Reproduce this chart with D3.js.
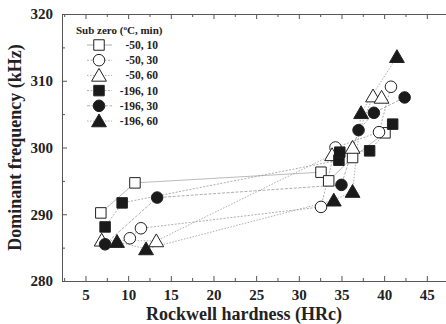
<!DOCTYPE html>
<meta charset="utf-8">
<body style="margin:0;background:#fff">
    <div id='chart'></div>
</body>
<script src="https://d3js.org/d3.v7.min.js"></script>
<style>
    text { font-family: "Liberation Serif", "Times New Roman", serif; font-weight: bold; fill: #222; }
    .axis path, .axis line { stroke: #555; }
    .links path { fill: none; }
</style>
<script>

    // sub zero conditions (legend)
    var seriesNames = ["-50, 10", "-50, 30", "-50, 60", "-196, 10", "-196, 30", "-196, 60"]
    var shapes = ["square", "circle", "triangle", "square", "circle", "triangle"]
    var filled = [false, false, false, true, true, true]

    // hardness (HRc) and dominant frequency (kHz) per series
    var hardness = [
        [6.8, 10.8, 32.6, 33.5, 36.3, 40.1],
        [10.2, 11.5, 32.6, 34.3, 39.4, 40.8],
        [6.9, 13.3, 33.9, 36.3, 38.7, 39.7],
        [7.3, 9.3, 34.7, 34.8, 38.3, 41.0],
        [7.3, 13.4, 35.0, 37.0, 38.8, 42.4],
        [8.7, 12.1, 34.1, 36.3, 37.3, 41.5]
    ]
    var frequency = [
        [290.2, 294.7, 296.3, 295.0, 298.5, 302.2],
        [286.4, 287.9, 291.1, 300.0, 302.3, 309.1],
        [286.1, 286.0, 298.9, 300.0, 307.7, 307.5],
        [288.1, 291.7, 298.1, 299.3, 299.5, 303.5],
        [285.5, 292.5, 294.4, 302.6, 305.2, 307.5],
        [285.9, 284.8, 292.1, 293.4, 305.2, 313.6]
    ]

    var xTicks = [5, 10, 15, 20, 25, 30, 35, 40, 45]
    var yTicks = [280, 290, 300, 310, 320]

    var width = 446,
        height = 324;

    var plotLeft = 62, plotTop = 14, plotBottom = 281;

    var svg = d3.select("#chart")
        .append('svg')
            .attr("width", width)
            .attr('height', height)

    var x = d3.scaleLinear().domain([2.25, 47.25]).range([plotLeft, 446])
    var y = d3.scaleLinear().domain([280, 320]).range([plotBottom, plotTop])

    var dashes = ["none", "2,1.5", "1.5,1.5", "2,1.5", "3,1.5", "1.5,1.5"]

    function symbolPath(shape, size) {
        var t = shape == "square" ? d3.symbolSquare : shape == "circle" ? d3.symbolCircle : d3.symbolTriangle
        return d3.symbol().type(t).size(size)()
    }
    function symbolSize(shape) {
        if (shape == "square") return 110
        else if (shape == "circle") return 105
        else return 95
    }

    // connecting lines
    var line = d3.line().x(function(d){ return x(d[0]) }).y(function(d){ return y(d[1]) })
    var links = svg.append("g").attr("class", "links")
    hardness.forEach(function(hs, i){
        var pts = hs.map(function(h, j){ return [h, frequency[i][j]] })
        links.append("path")
            .attr("d", line(pts))
            .attr("stroke", i == 0 ? "#aaa" : "#999")
            .attr("stroke-width", 0.8)
            .attr("stroke-dasharray", dashes[i])
    })

    // markers
    var marks = svg.append("g").attr("class", "nodes")
    hardness.forEach(function(hs, i){
        hs.forEach(function(h, j){
            var dy = shapes[i] == "triangle" ? 1.5 : 0
            marks.append("path")
                .attr("d", symbolPath(shapes[i], symbolSize(shapes[i])))
                .attr("transform", "translate(" + x(h) + "," + (y(frequency[i][j]) + dy) + ")")
                .attr("fill", filled[i] ? "#1a1a1a" : "#fff")
                .attr("stroke", "#222")
                .attr("stroke-width", 1)
        })
    })

    // axes: major ticks inward, minor ticks halfway
    var xMinor = d3.range(2.5, 47.5, 2.5).filter(function(v){ return v % 5 != 0 })
    var yMinor = [285, 295, 305, 315]

    var gx = svg.append("g").attr("class", "axis").attr("transform", "translate(0," + plotBottom + ")")
        .call(d3.axisBottom(x).tickValues(xTicks).tickSize(-5).tickPadding(8).tickSizeOuter(0))
    gx.selectAll("text").style("font-size", "15px")
    svg.append("g").attr("class", "axis").attr("transform", "translate(0," + plotBottom + ")")
        .call(d3.axisBottom(x).tickValues(xMinor).tickSize(-3).tickFormat("").tickSizeOuter(0))
        .select(".domain").remove()

    svg.append("g").attr("class", "axis").attr("transform", "translate(0," + plotTop + ")")
        .call(d3.axisTop(x).tickValues(xTicks).tickSize(-5).tickFormat("").tickSizeOuter(0))
    svg.append("g").attr("class", "axis").attr("transform", "translate(0," + plotTop + ")")
        .call(d3.axisTop(x).tickValues(xMinor).tickSize(-3).tickFormat("").tickSizeOuter(0))
        .select(".domain").remove()

    var gy = svg.append("g").attr("class", "axis").attr("transform", "translate(" + plotLeft + ",0)")
        .call(d3.axisLeft(y).tickValues(yTicks).tickSize(-5).tickPadding(9).tickSizeOuter(0))
    gy.selectAll("text").style("font-size", "15px")
    svg.append("g").attr("class", "axis").attr("transform", "translate(" + plotLeft + ",0)")
        .call(d3.axisLeft(y).tickValues(yMinor).tickSize(-3).tickFormat("").tickSizeOuter(0))
        .select(".domain").remove()

    // axis titles
    svg.append("text")
        .attr("x", 244).attr("y", 320)
        .attr("text-anchor", "middle")
        .style("font-size", "18px")
        .text("Rockwell hardness (HRc)")

    svg.append("text")
        .attr("transform", "translate(21," + ((plotTop + plotBottom) / 2) + ") rotate(-90)")
        .attr("text-anchor", "middle")
        .style("font-size", "18px")
        .text("Dominant frequency (kHz)")

    // legend
    var legend = svg.append("g").attr("class", "legend")
    var title = legend.append("text").attr("x", 76).attr("y", 34).style("font-size", "11px")
    title.append("tspan").text("Sub zero (")
    title.append("tspan").attr("dy", "-4").style("font-size", "7px").text("o")
    title.append("tspan").attr("dy", "4").text("C, min)")

    seriesNames.forEach(function(name, i){
        var ly = 45 + i * 15.2
        legend.append("line")
            .attr("x1", 87).attr("x2", 112).attr("y1", ly).attr("y2", ly)
            .attr("stroke", "#999").attr("stroke-width", 0.8)
            .attr("stroke-dasharray", dashes[i])
        legend.append("path")
            .attr("d", symbolPath(shapes[i], symbolSize(shapes[i])))
            .attr("transform", "translate(99," + (ly + (shapes[i] == "triangle" ? 1.5 : 0)) + ")")
            .attr("fill", filled[i] ? "#1a1a1a" : "#fff")
            .attr("stroke", "#222")
        legend.append("text")
            .attr("x", 158).attr("y", ly + 4)
            .attr("text-anchor", "end")
            .style("font-size", "11.5px")
            .text(name)
    })

</script>
